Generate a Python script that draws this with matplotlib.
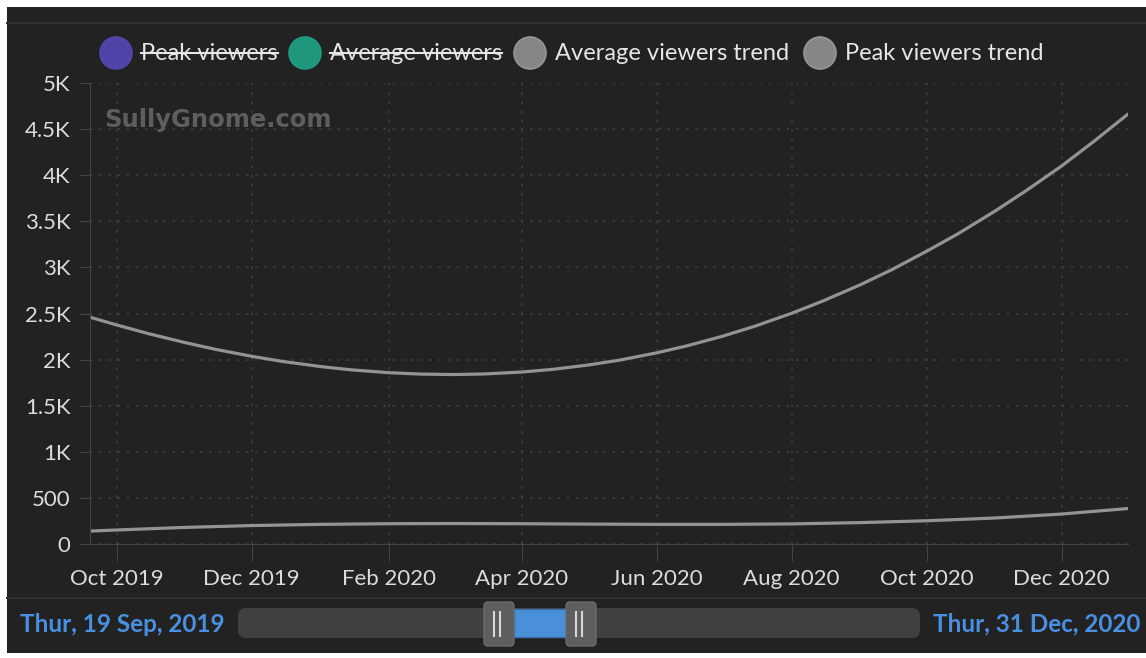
import matplotlib.pyplot as plt
import matplotlib.dates as mdates
from matplotlib.patches import Rectangle, FancyBboxPatch, Circle
import numpy as np
import pandas as pd

plt.rcParams['font.family'] = ['Lato', 'DejaVu Sans']

# values (1st and 15th of each month, plus both ends)
peak_dates = pd.to_datetime([
    '2019-09-19', '2019-10-01', '2019-10-15', '2019-11-01', '2019-11-15',
    '2019-12-01', '2019-12-15', '2020-01-01', '2020-01-15', '2020-02-01',
    '2020-02-15', '2020-03-01', '2020-03-15', '2020-04-01', '2020-04-15',
    '2020-05-01', '2020-05-15', '2020-06-01', '2020-06-15', '2020-07-01',
    '2020-07-15', '2020-08-01', '2020-08-15', '2020-09-01', '2020-09-15',
    '2020-10-01', '2020-10-15', '2020-11-01', '2020-11-15', '2020-12-01',
    '2020-12-15', '2020-12-31'])
peak_trend = [2460, 2376, 2284, 2184, 2110, 2036, 1980, 1925, 1889, 1858,
              1843, 1838, 1844, 1865, 1894, 1941, 1993, 2073, 2151, 2255,
              2359, 2502, 2634, 2811, 2972, 3175, 3362, 3612, 3833, 4100,
              4356, 4663]

avg_dates = pd.to_datetime([
    '2019-09-19', '2019-10-01', '2019-11-01', '2019-12-01', '2020-01-01',
    '2020-02-01', '2020-03-01', '2020-04-01', '2020-05-01', '2020-06-01',
    '2020-07-01', '2020-08-01', '2020-09-01', '2020-10-01', '2020-11-01',
    '2020-12-01', '2020-12-31'])
avg_trend = [140, 152, 180, 200, 213, 220, 222, 220, 216, 213,
             213, 218, 232, 252, 282, 325, 385]

legend_labels = ['Peak viewers', 'Average viewers',
                 'Average viewers trend', 'Peak viewers trend']
legend_colors = ['#5247b0', '#1f9e82', '#8c8c8c', '#8c8c8c']
legend_hidden = [True, True, False, False]

start_label = 'Thur, 19 Sep, 2019'
end_label = 'Thur, 31 Dec, 2020'

bg = '#222222'
W, H = 1146, 658

fig = plt.figure(figsize=(W / 100, H / 100), dpi=100, facecolor='white')

# overlay in pixel coordinates for the frame, legend and navigator
ov = fig.add_axes([0, 0, 1, 1], zorder=-1)
ov.set_xlim(0, W)
ov.set_ylim(H, 0)
ov.axis('off')
ov.add_patch(Rectangle((7, 7), W - 7, 646, color=bg, lw=0))
ov.plot([7, W], [23, 23], color='#2f2f2f', lw=1.5)
ov.plot([7, W], [598, 598], color='#2f2f2f', lw=1.5)

# legend
circ_x = [116, 305, 530, 820]
for cx, lab, col, hid in zip(circ_x, legend_labels, legend_colors, legend_hidden):
    ov.add_patch(Circle((cx, 53), 16, facecolor=col, edgecolor='#9a9a9a' if not hid else col,
                        lw=1.2, alpha=0.95))
    t = ov.text(cx + 25, 53, lab, color='#e6e6e6', fontsize=17, va='center', ha='left')
    if hid:
        fig.canvas.draw()
        bb = t.get_window_extent()
        ov.plot([bb.x0, bb.x1], [53, 53], color='#e6e6e6', lw=1.5)

# navigator
ov.add_patch(FancyBboxPatch((238, 608), 682, 30, boxstyle='round,pad=0,rounding_size=8',
                            facecolor='#404040', lw=0))
ov.add_patch(Rectangle((514, 609), 53, 28, facecolor='#4a90d9', edgecolor='#3a70b0', lw=1))
for hx in [484, 566]:
    ov.add_patch(FancyBboxPatch((hx, 602), 30, 44, boxstyle='round,pad=0,rounding_size=4',
                                facecolor='#5e5e5e', edgecolor='#6a6a6a', lw=1))
    for lx in [hx + 10, hx + 16]:
        ov.plot([lx, lx], [612, 636], color='#d8d8d8', lw=1.5)
ov.text(20, 624, start_label, color='#4a90e2', fontsize=17.5, fontweight='bold',
        ha='left', va='center')
ov.text(1140, 624, end_label, color='#4a90e2', fontsize=17.5, fontweight='bold',
        ha='right', va='center')

# main chart
ax = fig.add_axes([90 / W, 1 - 544 / H, 1038 / W, 461 / H], zorder=1)
ax.set_facecolor(bg)
ax.plot(avg_dates, avg_trend, color='#939393', lw=2.3, solid_capstyle='round')
ax.plot(peak_dates, peak_trend, color='#939393', lw=2.3, solid_capstyle='round')

ax.set_xlim(pd.Timestamp('2019-09-19'), pd.Timestamp('2020-12-31'))
ax.set_ylim(0, 5000)
ax.set_yticks(np.arange(0, 5001, 500))
ax.set_yticklabels(['0', '500', '1K', '1.5K', '2K', '2.5K', '3K', '3.5K', '4K', '4.5K', '5K'])
ax.xaxis.set_major_locator(mdates.MonthLocator(bymonth=[2, 4, 6, 8, 10, 12]))
ax.xaxis.set_major_formatter(mdates.DateFormatter('%b %Y'))

ax.grid(True, color='#3e3e3e', linestyle=(0, (1.5, 4)), lw=1.2)
for s in ['top', 'right']:
    ax.spines[s].set_visible(False)
for s in ['left', 'bottom']:
    ax.spines[s].set_color('#444444')
ax.tick_params(axis='y', colors='#444444', labelcolor='#dcdcdc', labelsize=16,
               length=8, pad=6)
ax.tick_params(axis='x', colors='#444444', labelcolor='#dcdcdc', labelsize=16,
               length=12, pad=6)

ax.text(0.0135, 0.92, 'SullyGnome.com', transform=ax.transAxes, color='#5e5e5e',
        fontsize=17.5, fontweight='bold', family='DejaVu Sans', ha='left', va='center')

fig.savefig('out.png', dpi=100, facecolor=fig.get_facecolor())
